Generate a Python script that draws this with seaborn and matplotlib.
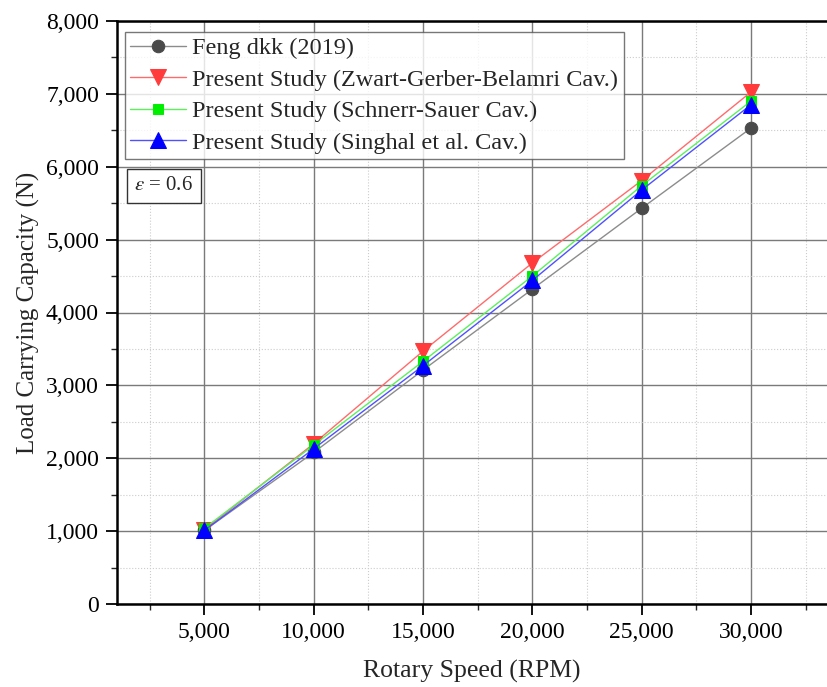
import matplotlib
matplotlib.use("Agg")
import matplotlib.pyplot as plt
import seaborn as sns
import pandas as pd
from matplotlib.ticker import FuncFormatter, MultipleLocator, FixedLocator

speed = [5000, 10000, 15000, 20000, 25000, 30000]
feng = [1010, 2080, 3210, 4320, 5430, 6530]
zgb = [1020, 2200, 3470, 4680, 5810, 7025]
ss = [1040, 2180, 3330, 4500, 5740, 6900]
singhal = [1010, 2130, 3270, 4440, 5680, 6850]

labels = ["Feng dkk (2019)",
          "Present Study (Zwart-Gerber-Belamri Cav.)",
          "Present Study (Schnerr-Sauer Cav.)",
          "Present Study (Singhal et al. Cav.)"]
series = [feng, zgb, ss, singhal]

sns.set_theme(style="white")
plt.rcParams['font.family'] = ['Liberation Serif', 'DejaVu Serif']
plt.rcParams['mathtext.fontset'] = 'stix'

W, H = 827, 687
fig = plt.figure(figsize=(W/100, H/100), dpi=100)
ax = fig.add_axes([117/W, 83/H, 1 - 117/W, (604-21)/H])

styles = [
    dict(color="#8c8c8c", marker="o", mfc="#4a4a4a", mec="#4a4a4a", ms=9),
    dict(color="#ff6b6b", marker="v", mfc="#ff3b3b", mec="#ff3b3b", ms=11),
    dict(color="#5cf05c", marker="s", mfc="#00ee00", mec="#00ee00", ms=7.5),
    dict(color="#5050ff", marker="^", mfc="#0000ff", mec="#0000ff", ms=11),
]

for vals, lab, st in zip(series, labels, styles):
    df = pd.DataFrame({"x": speed, "y": vals})
    sns.lineplot(data=df, x="x", y="y", ax=ax, label=lab, color=st["color"],
                 marker=st["marker"], markerfacecolor=st["mfc"],
                 markeredgecolor=st["mec"], markersize=st["ms"], linewidth=1.0)

ax.set_xlim(1000, 33480)
ax.set_ylim(0, 8000)
ax.xaxis.set_major_locator(FixedLocator(speed))
ax.xaxis.set_minor_locator(MultipleLocator(2500))
ax.yaxis.set_major_locator(MultipleLocator(1000))
ax.yaxis.set_minor_locator(MultipleLocator(500))
fmt = FuncFormatter(lambda v, p: f"{int(v):,}")
ax.xaxis.set_major_formatter(fmt)
ax.yaxis.set_major_formatter(fmt)

ax.grid(True, which="major", color="#7a7a7a", linewidth=1.0, linestyle="-")
ax.grid(True, which="minor", color="#cccccc", linewidth=0.8, linestyle=":")
ax.set_axisbelow(True)

for s in ["left", "bottom", "top"]:
    ax.spines[s].set_color("black")
    ax.spines[s].set_linewidth(1.8)
ax.spines["right"].set_visible(False)

ax.tick_params(axis="both", which="major", direction="out", length=8, width=1.3,
               labelsize=17, colors="black", bottom=True, left=True, pad=5)
ax.tick_params(axis="both", which="minor", direction="out", length=4, width=1.0,
               bottom=True, left=True)

ax.set_xlabel("Rotary Speed (RPM)", fontsize=18.5, labelpad=12)
ax.set_ylabel("Load Carrying Capacity (N)", fontsize=18, labelpad=4)

axw, axh = W - 117, 604 - 21
leg = ax.legend(loc="upper left", bbox_to_anchor=(8/axw, 1 - 11/axh), fontsize=17.5,
                frameon=True, fancybox=False, edgecolor="#555555",
                handlelength=2.3, borderpad=0.22, labelspacing=0.39,
                handletextpad=0.25, borderaxespad=0.0)
leg.get_frame().set_linewidth(1.0)

ax.text(0.0245, (604-186)/axh, r"$\varepsilon$ = 0.6", transform=ax.transAxes, fontsize=15,
        va="center", ha="left",
        bbox=dict(boxstyle="square,pad=0.35", fc="white", ec="#333333", lw=1.0))

fig.savefig("out.png", dpi=100)
